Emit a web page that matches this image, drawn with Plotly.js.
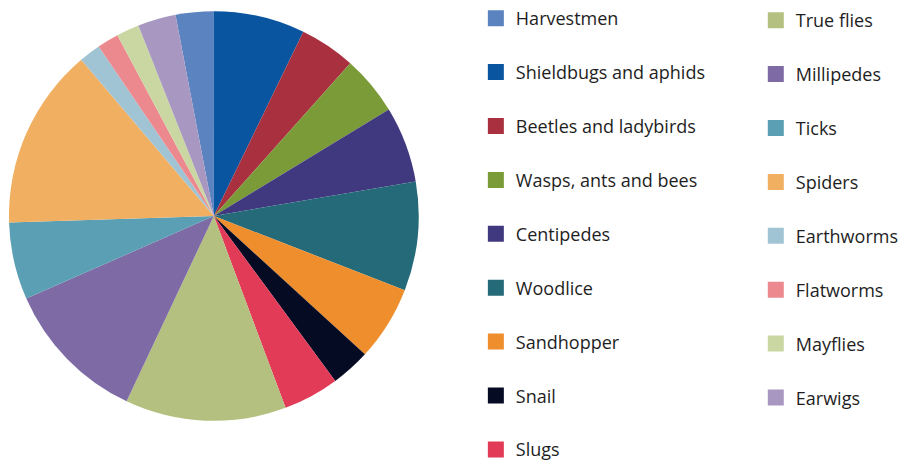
<!DOCTYPE html>
<html>
<head>
<meta charset="utf-8">
<script src="https://cdn.plot.ly/plotly-3.0.1.min.js"></script>
<style>html,body{margin:0;padding:0;background:#fff;}#chart{width:904px;height:463px;}</style>
</head>
<body>
<div id="chart"></div>
<script>
const labels = ["Harvestmen","Shieldbugs and aphids","Beetles and ladybirds","Wasps, ants and bees","Centipedes","Woodlice","Sandhopper","Snail","Slugs","True flies","Millipedes","Ticks","Spiders","Earthworms","Flatworms","Mayflies","Earwigs"];
const values = [3.0,7.2,4.4,4.7,6.0,8.6,5.9,3.1,4.4,12.7,11.4,6.1,14.3,1.7,1.7,1.8,3.0];
const colors = ["#5b83bf","#0a55a0","#a8303f","#7a9b38","#41397f","#246a79","#ef8e2c","#060b24","#e23b58","#b4c07f","#7e6ba6","#5a9fb3","#f1af62","#a1c4d5","#ec898e","#cad7a2","#a898c1"];
const firstColumnCount = 9;

const traces = [{
  type: "pie",
  labels: labels,
  values: values,
  marker: {colors: colors, line: {width: 0}},
  sort: false,
  direction: "clockwise",
  rotation: -10.8,
  textinfo: "none",
  hoverinfo: "label+percent",
  showlegend: false,
  domain: {x: [9/904, 421/904], y: [41/463, 453/463]}
}];

labels.forEach((lab, i) => {
  traces.push({
    type: "scatter",
    mode: "markers",
    x: [null], y: [null],
    name: lab,
    legendgroup: "g" + i,
    legend: i < firstColumnCount ? "legend" : "legend2",
    marker: {symbol: "square", size: 16, color: colors[i], line: {width: 0}},
    showlegend: true,
    hoverinfo: "skip"
  });
});

const legendFont = {family: "Open Sans, sans-serif", size: 18, color: "#1e1e1e"};
const layout = {
  width: 904, height: 463,
  margin: {l: 0, r: 0, t: 0, b: 0},
  paper_bgcolor: "#ffffff",
  plot_bgcolor: "#ffffff",
  xaxis: {visible: false},
  yaxis: {visible: false},
  legend: {x: 478.5/904, y: 1, xanchor: "left", yanchor: "top", font: legendFont, tracegroupgap: 27.5, bgcolor: "rgba(0,0,0,0)", itemclick: false},
  legend2: {x: 760/904, y: 1 - 2/463, xanchor: "left", yanchor: "top", font: legendFont, tracegroupgap: 27.5, bgcolor: "rgba(0,0,0,0)", itemclick: false}
};

Plotly.newPlot("chart", traces, layout, {displayModeBar: false, staticPlot: true});
</script>
</body>
</html>
